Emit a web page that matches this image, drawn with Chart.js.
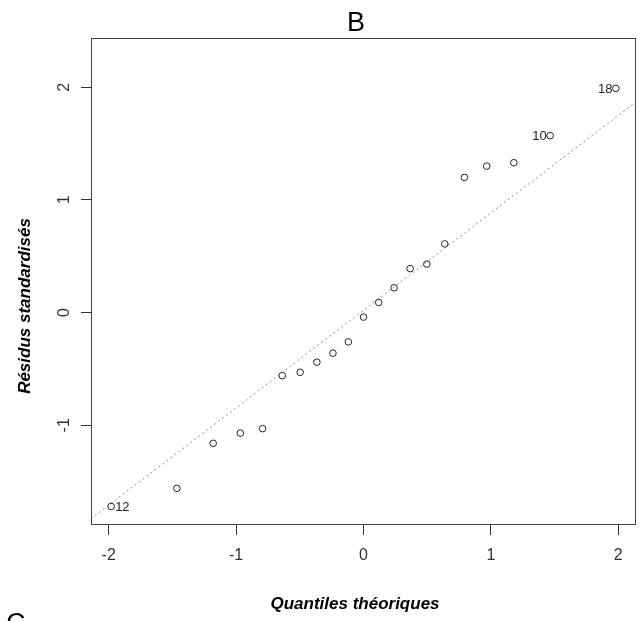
<!DOCTYPE html>
<html>
<head>
<meta charset="utf-8">
<script src="https://cdn.jsdelivr.net/npm/chart.js@4.4.1/dist/chart.umd.min.js"></script>
<style>
  body { margin: 0; background: #fff; }
  canvas { display: block; }
</style>
</head>
<body>
<canvas id="qq" width="641" height="621"></canvas>
<script>
// theoretical normal quantiles, n = 21
const quantiles = [-1.981, -1.465, -1.180, -0.967, -0.792, -0.638, -0.497, -0.366, -0.240, -0.119,
  0, 0.119, 0.240, 0.366, 0.497, 0.638, 0.792, 0.967, 1.180, 1.465, 1.981];
// sorted standardised residuals
const residuals = [-1.72, -1.56, -1.16, -1.07, -1.03, -0.56, -0.53, -0.44, -0.36, -0.26,
  -0.04, 0.09, 0.22, 0.39, 0.43, 0.61, 1.20, 1.30, 1.33, 1.57, 1.99];
// labelled observations (index in sorted order -> observation number)
const labelIndex = [0, 19, 20];
const labelText = ['12', '10', '18'];

const xTicks = [-2, -1, 0, 1, 2];
const yTicks = [-1, 0, 1, 2];
const xRange = [-2.139, 2.139];
const yRange = [-1.885, 2.437];
// reference line (qqline) heights at the left and right edge of the plot
const lineEnds = [-1.83, 1.87];

const titleText = 'B';
const xTitle = 'Quantiles théoriques';
const yTitle = 'Résidus standardisés';

const FONT = '"Liberation Sans", Arial, sans-serif';

const decor = {
  id: 'decor',
  afterDraw(chart) {
    const { ctx, chartArea: a } = chart;
    ctx.save();
    // plot box
    ctx.strokeStyle = '#444';
    ctx.lineWidth = 1;
    ctx.strokeRect(a.left + 0.5, a.top + 0.5, a.right - a.left - 1, a.bottom - a.top - 1);

    ctx.fillStyle = '#000';
    ctx.textAlign = 'center';
    ctx.textBaseline = 'alphabetic';
    ctx.font = '27px ' + FONT;
    ctx.fillText(titleText, 356, 31);

    ctx.font = 'italic bold 17px ' + FONT;
    ctx.fillText(xTitle, 355, 609);

    ctx.save();
    ctx.translate(30, 306);
    ctx.rotate(-Math.PI / 2);
    ctx.fillText(yTitle, 0, 0);
    ctx.restore();

    // next panel letter, cut off by the bottom edge
    ctx.textAlign = 'left';
    ctx.font = '27px ' + FONT;
    ctx.fillText('C', 6, 632);

    // point ids
    const pts = chart.getDatasetMeta(1).data;
    ctx.font = '13px ' + FONT;
    ctx.fillStyle = '#222';
    ctx.textBaseline = 'middle';
    labelIndex.forEach((idx, i) => {
      const p = pts[idx];
      if (quantiles[idx] < 0) {
        ctx.textAlign = 'left';
        ctx.fillText(labelText[i], p.x + 4, p.y + 1);
      } else {
        ctx.textAlign = 'right';
        ctx.fillText(labelText[i], p.x - 3.5, p.y + 1);
      }
    });
    ctx.restore();
  }
};

new Chart(document.getElementById('qq'), {
  type: 'scatter',
  data: {
    datasets: [
      {
        type: 'line',
        data: [{ x: xRange[0], y: lineEnds[0] }, { x: xRange[1], y: lineEnds[1] }],
        borderColor: '#8a8a8a', borderWidth: 1, borderDash: [2, 3],
        pointRadius: 0, fill: false, order: 2
      },
      {
        data: quantiles.map((q, i) => ({ x: q, y: residuals[i] })),
        pointStyle: 'circle', pointRadius: 3.3, borderWidth: 1,
        borderColor: '#222', backgroundColor: 'rgba(0,0,0,0)', order: 1
      }
    ]
  },
  options: {
    responsive: false,
    animation: false,
    layout: { padding: { left: 0, top: 38, right: 5, bottom: 0 } },
    plugins: { legend: { display: false }, tooltip: { enabled: false }, title: { display: false } },
    scales: {
      x: {
        type: 'linear', min: xRange[0], max: xRange[1],
        afterBuildTicks: s => { s.ticks = xTicks.map(v => ({ value: v })); },
        afterFit: s => { s.height = 96; },
        border: { display: false },
        grid: { drawOnChartArea: false, drawTicks: true, tickLength: 10, color: '#333' },
        ticks: { font: { family: FONT, size: 16 }, color: '#333', padding: 11, maxRotation: 0, minRotation: 0 }
      },
      y: {
        type: 'linear', min: yRange[0], max: yRange[1],
        afterBuildTicks: s => { s.ticks = yTicks.map(v => ({ value: v })); },
        afterFit: s => { s.width = 91; },
        border: { display: false },
        grid: { drawOnChartArea: false, drawTicks: true, tickLength: 10, color: '#333' },
        ticks: { font: { family: FONT, size: 16 }, color: '#333', padding: 9, minRotation: 90, maxRotation: 90, crossAlign: 'center' }
      }
    }
  },
  plugins: [decor]
});
</script>
</body>
</html>
